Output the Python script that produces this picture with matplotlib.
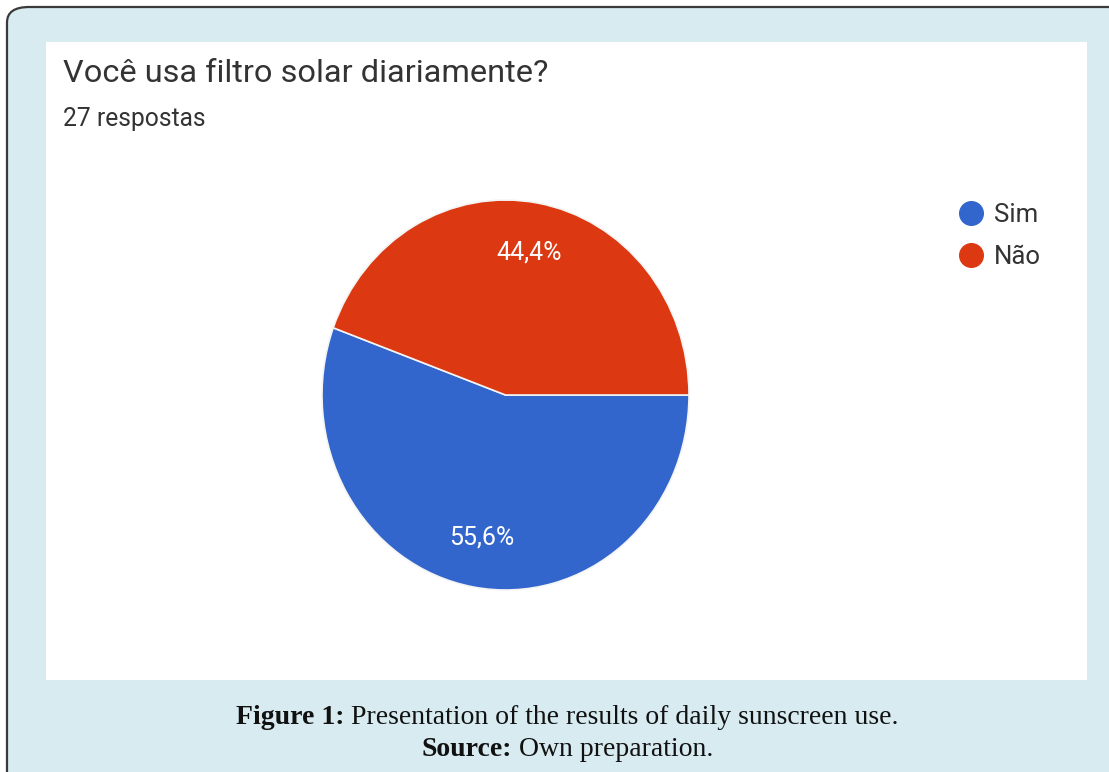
import matplotlib
matplotlib.use("Agg")
import matplotlib.pyplot as plt
from matplotlib.patches import FancyBboxPatch, Rectangle
from matplotlib.lines import Line2D

# data
labels = ["Sim", "Não"]
values = [55.6, 44.4]
colors = ["#3366cc", "#dc3912"]
title = "Você usa filtro solar diariamente?"
subtitle = "27 respostas"
caption_bold = ["Figure 1:", "Source:"]
caption_text = [" Presentation of the results of daily sunscreen use.", " Own preparation."]

W, H = 1109, 772
BG = "#d7ebf1"


def px(x, y):
    # pixel (top-left origin) to figure fraction
    return x / W, 1 - y / H


def main():
    fig = plt.figure(figsize=(W / 100, H / 100), dpi=100)
    fig.patch.set_facecolor("white")

    # outer rounded frame
    frame = FancyBboxPatch((7 / W, -0.1), 1.2, 1 - 7 / H + 0.1,
                           boxstyle="round,pad=0,rounding_size=0.02",
                           transform=fig.transFigure, facecolor=BG,
                           edgecolor="#3a3a3a", linewidth=1.6, zorder=0)
    fig.patches.append(frame)

    # white chart panel
    x0, y0 = px(46, 680)
    x1, y1 = px(1087, 42)
    panel = Rectangle((x0, y0), x1 - x0, y1 - y0, transform=fig.transFigure,
                      facecolor="white", edgecolor="none", zorder=1)
    fig.patches.append(panel)

    fig.text(*px(63, 73), title, fontsize=23.4, family="Roboto",
             color="#333333", va="center", ha="left")
    fig.text(*px(63, 119), subtitle, fontsize=17.7, family="Roboto",
             color="#333333", va="center", ha="left")

    # pie axes (slightly taller than wide, as in the picture)
    left, bottom = px(322, 590)
    right, top = px(689, 200)
    ax = fig.add_axes([left, bottom, right - left, top - bottom], zorder=3)
    ax.patch.set_visible(False)
    wedges, texts, autotexts = ax.pie(
        values, colors=colors, startangle=0, counterclock=False,
        autopct=lambda p: f"{p:.1f}".replace(".", ",") + "%",
        pctdistance=0.74,
        wedgeprops=dict(edgecolor="#f4f4f4", linewidth=1.2),
        textprops=dict(color="white", fontsize=18, family="Roboto"))
    ax.set_aspect("auto")
    ax.set_xlim(-1.0, 1.0)
    ax.set_ylim(-1.0, 1.0)
    ax.axis("off")

    handles = [Line2D([], [], marker="o", linestyle="none", markersize=17,
                      markerfacecolor=c, markeredgecolor=c) for c in colors]
    leg = fig.legend(handles, labels, loc="upper left", bbox_to_anchor=px(930, 180),
                     frameon=False, prop=dict(family="Roboto", size=18.5),
                     handletextpad=0.2, labelspacing=0.68, labelcolor="#333333",
                     handlelength=1.4)
    leg.set_zorder(4)

    # caption with bold lead-in
    fig.canvas.draw()
    renderer = fig.canvas.get_renderer()
    for yy, b, t in zip([717, 750], caption_bold, caption_text):
        tb = fig.text(0, 0, b, fontsize=20, family="Liberation Serif",
                      weight="bold", color="#111111", va="center")
        tt = fig.text(0, 0, t, fontsize=20, family="Liberation Serif",
                      color="#111111", va="center")
        wb = tb.get_window_extent(renderer).width
        wt = tt.get_window_extent(renderer).width
        start = 567 - (wb + wt) / 2
        tb.set_position(px(start, yy))
        tt.set_position(px(start + wb, yy))

    fig.savefig("out.png", dpi=100, facecolor=fig.get_facecolor())


if __name__ == "__main__":
    main()
